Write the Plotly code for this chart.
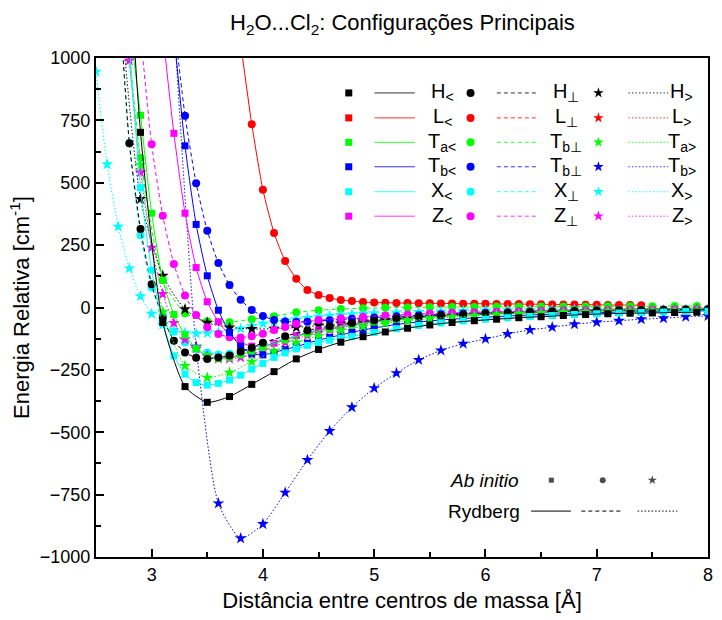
import plotly.graph_objects as go

# ---------------- data ----------------
# H configurations (black)
H_lt_x = [2.7, 2.9, 3.1, 3.3, 3.5, 3.7, 3.9, 4.1, 4.3, 4.5, 4.7, 4.9, 5.1, 5.3, 5.5, 5.7, 5.9, 6.1, 6.3, 6.5, 6.7, 6.9, 7.1, 7.3, 7.5, 7.7, 7.9]
H_lt_y = [2200, 702, -60, -317, -380, -357, -308, -257, -206, -168, -139, -117, -98, -83, -70, -60, -53, -47, -41, -37, -32, -28, -25, -23, -22, -20, -19]
H_pp_x = [2.7, 2.8, 2.9, 3.0, 3.1, 3.2, 3.3, 3.4, 3.5, 3.6, 3.7, 3.8, 3.9, 4.0, 4.2, 4.4, 4.6, 4.8, 5.0, 5.2, 5.4, 5.6, 5.8, 6.0, 6.2, 6.4, 6.6, 6.8, 7.0, 7.2, 7.4, 7.6, 7.8, 8.0]
H_pp_y = [1300, 658, 315, 93, -40, -133, -180, -201, -206, -200, -192, -177, -161, -141, -115, -92, -75, -62, -52, -44, -37, -32, -28, -24, -21, -18, -16, -14, -12, -11, -10, -9, -8, -7]
H_gt_x = [2.7, 2.9, 3.1, 3.3, 3.5, 3.7, 3.9, 4.1, 4.3, 4.5, 4.7, 4.9, 5.1, 5.3, 5.5, 5.7, 5.9, 6.1, 6.3, 6.5, 6.7, 6.9, 7.1, 7.3, 7.5, 7.7, 7.9]
H_gt_y = [1300, 435, 127, -7, -61, -80, -86, -85, -80, -72, -64, -56, -49, -43, -37, -33, -29, -25, -22, -20, -17, -15, -13, -12, -11, -10, -9]

# L configuration (red)
L_x = [3.8, 3.9, 4.0, 4.1, 4.2, 4.3, 4.4, 4.5, 4.6, 4.7, 4.8, 4.9, 5.0, 5.1, 5.2, 5.3, 5.4, 5.5, 5.6, 5.7, 5.8, 5.9, 6.0, 6.1, 6.2, 6.3, 6.4, 6.5, 6.6, 6.7, 6.8, 6.9, 7.0, 7.1, 7.2, 7.3, 7.4]
L_y = [1060, 734, 472, 299, 186, 115, 70, 50, 38, 30, 26, 22, 20, 19, 18, 18, 17, 17, 16, 16, 15, 15, 15, 14, 14, 14, 13, 13, 12, 12, 12, 11, 11, 10, 10, 10, 9]

# Ta configurations (green)
Ta_lt_x = [2.8, 2.9, 3.0, 3.1, 3.2, 3.3, 3.4, 3.5, 3.6, 3.7, 3.8, 3.9, 4.0, 4.2, 4.4, 4.6, 4.8, 5.0, 5.2, 5.4, 5.6, 5.8, 6.0, 6.2, 6.4, 6.6, 6.8, 7.0, 7.2, 7.4, 7.6, 7.8, 8.0]
Ta_lt_y = [1150, 770, 378, 110, -28, -110, -165, -195, -205, -200, -190, -175, -160, -130, -105, -85, -70, -58, -48, -40, -34, -29, -25, -21, -18, -16, -14, -12, -11, -10, -9, -8, -7]
Ta_pp_x = [2.7, 2.9, 3.1, 3.3, 3.5, 3.7, 3.9, 4.1, 4.3, 4.5, 4.7, 4.9, 5.1, 5.3, 5.5, 5.7, 5.9, 6.1, 6.3, 6.5, 6.7, 6.9, 7.1, 7.3, 7.5, 7.7, 7.9]
Ta_pp_y = [1500, 600, 110, -23, -55, -59, -47, -35, -19, -11, -6, -3, -1, 0, 1, 2, 2, 3, 3, 4, 4, 4, 5, 5, 5, 6, 6]
Ta_gt_x = [2.7, 2.9, 3.1, 3.3, 3.5, 3.7, 3.9, 4.1, 4.3, 4.5, 4.7, 4.9, 5.1, 5.3, 5.5, 5.7, 5.9, 6.1, 6.3, 6.5, 6.7, 6.9, 7.1, 7.3, 7.5, 7.7, 7.9]
Ta_gt_y = [1400, 571, -17, -234, -281, -261, -217, -175, -140, -113, -92, -76, -63, -53, -45, -38, -33, -28, -25, -22, -19, -17, -15, -14, -13, -12, -11]

# Tb configurations (blue)
Tb_lt_x = [3.2, 3.3, 3.4, 3.5, 3.6, 3.7, 3.8, 3.9, 4.0, 4.1, 4.2, 4.3, 4.4, 4.5, 4.6, 4.7, 4.8, 4.9, 5.0, 5.2, 5.4, 5.6, 5.8, 6.0, 6.2, 6.4, 6.6, 6.8, 7.0, 7.2, 7.4, 7.6, 7.8, 8.0]
Tb_lt_y = [1100, 648, 333, 127, -11, -100, -155, -185, -190, -180, -168, -157, -143, -131, -120, -110, -100, -90, -82, -68, -58, -50, -44, -39, -34, -30, -27, -24, -21, -19, -17, -16, -14, -13]
Tb_pp_x = [3.2, 3.3, 3.4, 3.5, 3.6, 3.7, 3.8, 3.9, 4.0, 4.1, 4.2, 4.3, 4.4, 4.5, 4.6, 4.7, 4.8, 4.9, 5.0, 5.2, 5.4, 5.6, 5.8, 6.0, 6.2, 6.4, 6.6, 6.8, 7.0, 7.2, 7.4, 7.6, 7.8, 8.0]
Tb_pp_y = [1150, 769, 498, 308, 178, 90, 31, -10, -34, -50, -56, -58, -57, -54, -51, -48, -45, -42, -40, -35, -31, -27, -24, -21, -19, -17, -15, -13, -12, -11, -10, -9, -8, -7]
Tb_gt_x = [3.2, 3.4, 3.6, 3.8, 4.0, 4.2, 4.4, 4.6, 4.8, 5.0, 5.2, 5.4, 5.6, 5.8, 6.0, 6.2, 6.4, 6.6, 6.8, 7.0, 7.2, 7.4, 7.6, 7.8, 8.0]
Tb_gt_y = [1150, -157, -785, -925, -868, -742, -611, -495, -400, -323, -263, -210, -172, -145, -126, -106, -90, -79, -67, -59, -53, -47, -43, -37, -34]

# X configurations (cyan)
X_lt_x = [2.8, 2.9, 3.0, 3.1, 3.2, 3.3, 3.4, 3.5, 3.6, 3.7, 3.8, 3.9, 4.0, 4.1, 4.2, 4.3, 4.4, 4.5, 4.6, 4.7, 4.8, 5.0, 5.2, 5.4, 5.6, 5.8, 6.0, 6.2, 6.4, 6.6, 6.8, 7.0, 7.2, 7.4, 7.6, 7.8, 8.0]
X_lt_y = [1050, 480, 150, -61, -194, -267, -301, -311, -304, -291, -271, -247, -224, -200, -182, -166, -152, -140, -131, -123, -116, -100, -85, -72, -62, -54, -47, -41, -36, -32, -28, -25, -22, -20, -18, -16, -15]
X_pp_x = [2.7, 2.8, 2.9, 3.0, 3.1, 3.2, 3.3, 3.4, 3.5, 3.6, 3.7, 3.8, 3.9, 4.0, 4.2, 4.4, 4.6, 4.8, 5.0, 5.2, 5.4, 5.6, 5.8, 6.0, 6.2, 6.4, 6.6, 6.8, 7.0, 7.2, 7.4, 7.6, 7.8, 8.0]
X_pp_y = [1300, 658, 290, 80, -30, -97, -140, -165, -180, -188, -185, -177, -165, -150, -125, -103, -85, -70, -58, -48, -40, -34, -29, -25, -21, -18, -16, -14, -12, -11, -10, -9, -8, -7]
X_gt_x = [2.4, 2.5, 2.6, 2.7, 2.8, 2.9, 3.0, 3.1, 3.2, 3.3, 3.4, 3.5, 3.6, 3.7, 3.8, 3.9, 4.0, 4.1, 4.2, 4.3, 4.4, 4.5, 4.6, 4.7, 4.8, 4.9, 5.0, 5.2, 5.4, 5.6, 5.8, 6.0, 6.2, 6.4, 6.6, 6.8, 7.0]
X_gt_y = [1500, 945, 574, 324, 157, 45, -25, -70, -92, -101, -104, -103, -100, -95, -85, -74, -64, -58, -52, -47, -42, -37, -33, -30, -27, -25, -23, -20, -18, -16, -14, -12, -11, -10, -9, -8, -8]

# Z configurations (magenta)
Z_lt_x = [3.1, 3.2, 3.3, 3.4, 3.5, 3.6, 3.7, 3.8, 3.9, 4.0, 4.1, 4.2, 4.3, 4.4, 4.5, 4.6, 4.7, 4.8, 4.9, 5.0, 5.2, 5.4, 5.6, 5.8, 6.0, 6.2, 6.4, 6.6, 6.8, 7.0, 7.2, 7.4, 7.6, 7.8, 8.0]
Z_lt_y = [1100, 698, 378, 160, 23, -57, -110, -140, -155, -155, -143, -128, -113, -101, -90, -82, -74, -67, -61, -56, -47, -40, -34, -29, -25, -22, -19, -17, -15, -13, -12, -11, -10, -9, -8]
Z_pp_x = [2.9, 3.0, 3.1, 3.2, 3.3, 3.4, 3.5, 3.6, 3.7, 3.8, 3.9, 4.0, 4.1, 4.2, 4.3, 4.5, 4.7, 4.9, 5.1, 5.3, 5.5, 5.7, 5.9, 6.1, 6.3, 6.5, 6.7, 6.9, 7.1, 7.3, 7.5, 7.7, 7.9]
Z_pp_y = [1100, 654, 368, 174, 48, -30, -79, -106, -119, -120, -115, -105, -90, -78, -65, -50, -43, -37, -32, -28, -24, -21, -19, -17, -15, -13, -12, -11, -10, -9, -8, -7, -7]
Z_gt_x = [2.8, 2.9, 3.0, 3.1, 3.2, 3.3, 3.4, 3.5, 3.6, 3.7, 3.8, 3.9, 4.0, 4.2, 4.4, 4.6, 4.8, 5.0, 5.2, 5.4, 5.6, 5.8, 6.0, 6.2, 6.4, 6.6, 6.8, 7.0, 7.2, 7.4, 7.6, 7.8, 8.0]
Z_gt_y = [990, 542, 240, 54, -62, -128, -165, -195, -205, -205, -200, -188, -172, -140, -112, -90, -73, -60, -50, -42, -36, -31, -27, -24, -21, -19, -17, -15, -13, -12, -11, -10, -9]

# legend table text
row_colors = ["#000000", "#FF0000", "#00FF00", "#0000FF", "#00FFFF", "#FF00FF"]
labels_lt = ["H<sub><</sub>", "L<sub><</sub>", "T<sub>a<</sub>", "T<sub>b<</sub>", "X<sub><</sub>", "Z<sub><</sub>"]
labels_pp = ["H<sub>⊥</sub>", "L<sub>⊥</sub>", "T<sub>b⊥</sub>", "T<sub>b⊥</sub>", "X<sub>⊥</sub>", "Z<sub>⊥</sub>"]
labels_gt = ["H<sub>></sub>", "L<sub>></sub>", "T<sub>a></sub>", "T<sub>b></sub>", "X<sub>></sub>", "Z<sub>></sub>"]

# ---------------- figure ----------------
FONT = "Liberation Sans, Arial, sans-serif"
DASH = "4px,3px"
DOT = "1.5px,2px"
fig = go.Figure()


def add(x, y, color, symbol, dash, size):
    fig.add_trace(go.Scatter(
        x=x, y=y, mode="lines+markers",
        line=dict(color=color, width=1, dash=dash, shape="spline", smoothing=0.6),
        marker=dict(symbol=symbol, color=color, size=size, line=dict(width=0)),
        showlegend=False, cliponaxis=True, hoverinfo="skip"))


series = [
    (L_x, L_y, "#FF0000", "circle", "solid", 8),
    (Tb_gt_x, Tb_gt_y, "#0000FF", "star", DOT, 9),
    (Ta_pp_x, Ta_pp_y, "#00FF00", "circle", DASH, 8),
    (X_gt_x, X_gt_y, "#00FFFF", "star", DOT, 9),
    (Tb_pp_x, Tb_pp_y, "#0000FF", "circle", DASH, 8),
    (H_gt_x, H_gt_y, "#000000", "star", DOT, 9),
    (Z_pp_x, Z_pp_y, "#FF00FF", "circle", DASH, 8),
    (Z_lt_x, Z_lt_y, "#FF00FF", "square", "solid", 7),
    (X_pp_x, X_pp_y, "#00FFFF", "circle", DASH, 8),
    (Z_gt_x, Z_gt_y, "#FF00FF", "star", DOT, 9),
    (Tb_lt_x, Tb_lt_y, "#0000FF", "square", "solid", 7),
    (Ta_lt_x, Ta_lt_y, "#00FF00", "square", "solid", 7),
    (H_pp_x, H_pp_y, "#000000", "circle", DASH, 8),
    (Ta_gt_x, Ta_gt_y, "#00FF00", "star", DOT, 9),
    (X_lt_x, X_lt_y, "#00FFFF", "square", "solid", 7),
    (H_lt_x, H_lt_y, "#000000", "square", "solid", 7),
]
for s in series:
    add(*s)

# ---------------- legend table (overlay axes in plot-fraction units) ----------------
row_y = [0.930, 0.880, 0.831, 0.782, 0.732, 0.683]
cols = [  # marker x, line x0, line x1, label x, symbol, dash, labels
    (0.413, 0.455, 0.521, 0.566, "square", "solid", labels_lt),
    (0.612, 0.655, 0.720, 0.768, "circle", DASH, labels_pp),
    (0.821, 0.870, 0.935, 0.957, "star", DOT, labels_gt),
]
for (mx, lx0, lx1, tx, sym, dash, labs) in cols:
    fig.add_trace(go.Scatter(
        x=[mx] * 6, y=row_y, mode="markers", xaxis="x2", yaxis="y2",
        marker=dict(symbol=sym, color=row_colors, size=8 if sym != "square" else 7, line=dict(width=0)),
        showlegend=False, hoverinfo="skip"))
    for c, ry, lab in zip(row_colors, row_y, labs):
        fig.add_trace(go.Scatter(
            x=[lx0, lx1], y=[ry, ry], mode="lines", xaxis="x2", yaxis="y2",
            line=dict(color=c, width=1, dash=dash), opacity=0.8,
            showlegend=False, hoverinfo="skip"))
        fig.add_annotation(x=tx, y=ry, xref="x2", yref="y2", text=lab, showarrow=False,
                           font=dict(family=FONT, size=20, color="black"), xanchor="center", yanchor="middle")

# bottom legend (Ab initio / Rydberg)
fig.add_trace(go.Scatter(
    x=[0.744, 0.828, 0.909], y=[0.154] * 3, mode="markers", xaxis="x2", yaxis="y2",
    marker=dict(symbol=["square", "circle", "star"], color="black", size=[5, 6, 7], line=dict(width=0)),
    showlegend=False, hoverinfo="skip"))
for (x0, x1, dash) in [(0.711, 0.776, "solid"), (0.793, 0.861, DASH), (0.885, 0.950, DOT)]:
    fig.add_trace(go.Scatter(
        x=[x0, x1], y=[0.092, 0.092], mode="lines", xaxis="x2", yaxis="y2",
        line=dict(color="black", width=1, dash=dash), showlegend=False, hoverinfo="skip"))
fig.add_annotation(x=0.634, y=0.154, xref="x2", yref="y2", text="<i>Ab initio</i>", showarrow=False,
                   font=dict(family=FONT, size=19, color="black"), xanchor="center", yanchor="middle")
fig.add_annotation(x=0.634, y=0.092, xref="x2", yref="y2", text="Rydberg", showarrow=False,
                   font=dict(family=FONT, size=19, color="black"), xanchor="center", yanchor="middle")

# title
fig.add_annotation(x=0.5, y=1 + 34 / 499, xref="paper", yref="paper",
                   text="H<sub>2</sub>O...Cl<sub>2</sub>: Configurações Principais", showarrow=False,
                   font=dict(family=FONT, size=22, color="black"), xanchor="center", yanchor="middle")

axis_common = dict(showgrid=False, zeroline=False, showline=True, linecolor="black", linewidth=2,
                   mirror=True, ticks="inside", tickcolor="black", tickwidth=1.5, ticklen=8,
                   tickfont=dict(family=FONT, size=18, color="black"))
fig.update_layout(
    width=722, height=620,
    margin=dict(l=96, r=9, t=58, b=63),
    paper_bgcolor="white", plot_bgcolor="white",
    font=dict(family=FONT, color="black"),
    xaxis=dict(range=[2.5, 8], tickmode="array", tickvals=[3, 4, 5, 6, 7, 8],
               minor=dict(tickvals=[3.5, 4.5, 5.5, 6.5, 7.5], ticks="inside", ticklen=5, tickcolor="black", tickwidth=1.5),
               title=dict(text="Distância entre centros de massa [Å]", font=dict(family=FONT, size=22), standoff=9),
               **axis_common),
    yaxis=dict(range=[-1000, 1000], tickmode="array", tickvals=[-1000, -750, -500, -250, 0, 250, 500, 750, 1000],
               minor=dict(tickvals=[-875, -625, -375, -125, 125, 375, 625, 875], ticks="inside", ticklen=5, tickcolor="black", tickwidth=1.5),
               title=dict(text="Energia Relativa [cm<sup>-1</sup>]", font=dict(family=FONT, size=22), standoff=4),
               **axis_common),
    xaxis2=dict(range=[0, 1], overlaying="x", visible=False, fixedrange=True),
    yaxis2=dict(range=[0, 1], overlaying="y", visible=False, fixedrange=True),
)

fig.write_html("out.html")
